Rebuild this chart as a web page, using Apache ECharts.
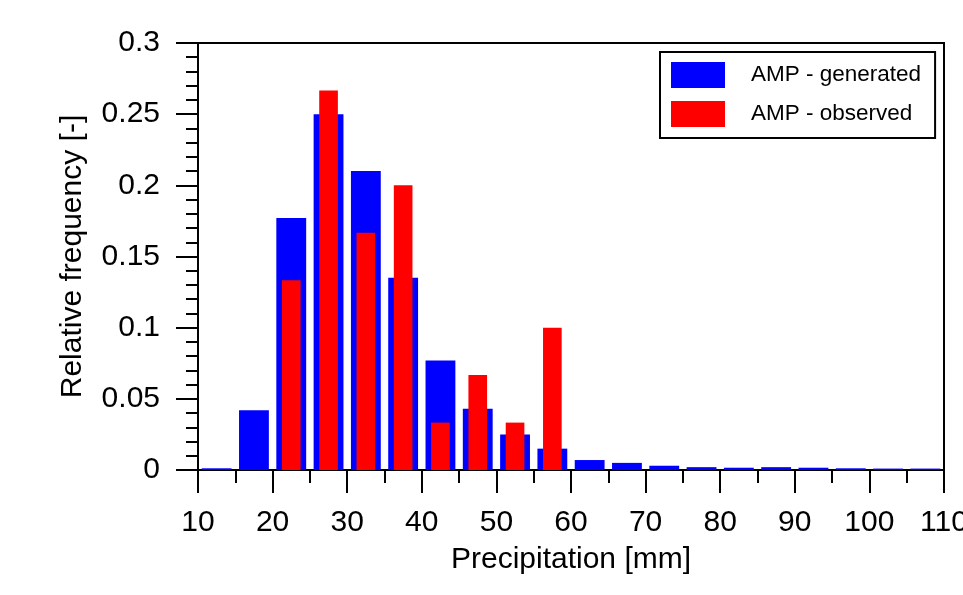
<!DOCTYPE html>
<html>
<head>
<meta charset="utf-8">
<title>AMP relative frequency</title>
<script src="https://cdn.jsdelivr.net/npm/echarts@6/dist/echarts.min.js"></script>
<style>
  html, body { margin: 0; padding: 0; background: #fff; }
  #chart { width: 963px; height: 595px; }
</style>
</head>
<body>
<div id="chart"></div>
<script>
// Histogram bins of annual maximum precipitation (5 mm wide, given by their centres)
const genBinCentres = [12.5, 17.5, 22.5, 27.5, 32.5, 37.5, 42.5, 47.5, 52.5, 57.5,
                       62.5, 67.5, 72.5, 77.5, 82.5, 87.5, 92.5, 97.5, 102.5, 107.5];
const genFrequency = [0.0012, 0.042, 0.177, 0.25, 0.21, 0.135, 0.077, 0.043, 0.025, 0.015,
                      0.007, 0.005, 0.003, 0.002, 0.0016, 0.002, 0.0016, 0.0012, 0.001, 0.001];

const obsBinCentres = [22.5, 27.5, 32.5, 37.5, 42.5, 47.5, 52.5, 57.5];
const obsFrequency = [0.1333, 0.2667, 0.1667, 0.2, 0.0333, 0.0667, 0.0333, 0.1];

const seriesNames = ['AMP - generated', 'AMP - observed'];
const xTicks = { min: 10, max: 110, step: 10 };
const yTicks = { min: 0, max: 0.3, step: 0.05 };

const FONT = "'Liberation Sans', Arial, Helvetica, sans-serif";

// rectangle bars drawn through the axis scales; halfWidth is in mm
function barRenderer(halfWidth) {
  return function (params, api) {
    const x = api.value(0);
    const y = api.value(1);
    const topLeft = api.coord([x - halfWidth, y]);
    const bottomRight = api.coord([x + halfWidth, 0]);
    return {
      type: 'rect',
      shape: {
        x: topLeft[0],
        y: topLeft[1],
        width: bottomRight[0] - topLeft[0],
        height: bottomRight[1] - topLeft[1]
      },
      style: { fill: api.visual('color') }
    };
  };
}

const chart = echarts.init(document.getElementById('chart'), null, { renderer: 'canvas' });

chart.setOption({
  animation: false,
  backgroundColor: '#fff',
  grid: {
    left: 198, right: 19, top: 43, bottom: 125,
    containLabel: false,
    outerBoundsMode: 'none',
    show: true, borderColor: '#000', borderWidth: 2, backgroundColor: 'transparent'
  },
  legend: {
    orient: 'vertical',
    left: 660, top: 52,
    padding: [10, 14, 11, 11],
    borderColor: '#000', borderWidth: 2,
    itemWidth: 54, itemHeight: 26, itemGap: 13,
    textStyle: { fontFamily: FONT, fontSize: 22.5, color: '#000', padding: [0, 0, 0, 21] },
    data: seriesNames.map(n => ({ name: n, icon: 'rect' }))
  },
  xAxis: {
    type: 'value',
    min: xTicks.min, max: xTicks.max, interval: xTicks.step,
    name: 'Precipitation [mm]',
    nameLocation: 'middle', nameGap: 75,
    nameTextStyle: { fontFamily: FONT, fontSize: 30, color: '#000' },
    axisLine: { show: true, onZero: false, lineStyle: { color: '#000', width: 2 } },
    axisTick: { show: true, inside: false, length: 23, lineStyle: { color: '#000', width: 2 } },
    minorTick: { show: true, splitNumber: 2, length: 13, lineStyle: { color: '#000', width: 2 } },
    axisLabel: { fontFamily: FONT, fontSize: 30, color: '#000', margin: 38, showMaxLabel: true, hideOverlap: false },
    splitLine: { show: false }
  },
  yAxis: {
    type: 'value',
    min: yTicks.min, max: yTicks.max, interval: yTicks.step,
    name: 'Relative frequency [-]',
    nameLocation: 'middle', nameGap: 110, nameRotate: 90,
    nameTextStyle: { fontFamily: FONT, fontSize: 30, color: '#000' },
    axisLine: { show: true, lineStyle: { color: '#000', width: 2 } },
    axisTick: { show: true, inside: false, length: 22, lineStyle: { color: '#000', width: 2 } },
    minorTick: { show: true, splitNumber: 5, length: 12, lineStyle: { color: '#000', width: 2 } },
    axisLabel: { fontFamily: FONT, fontSize: 30, color: '#000', margin: 38 },
    splitLine: { show: false }
  },
  series: [
    {
      name: seriesNames[0],
      type: 'custom',
      itemStyle: { color: '#0000ff' },
      renderItem: barRenderer(2.0),
      encode: { x: 0, y: 1 },
      data: genBinCentres.map((c, i) => [c, genFrequency[i]]),
      z: 2
    },
    {
      name: seriesNames[1],
      type: 'custom',
      itemStyle: { color: '#ff0000' },
      renderItem: barRenderer(1.25),
      encode: { x: 0, y: 1 },
      data: obsBinCentres.map((c, i) => [c, obsFrequency[i]]),
      z: 3
    }
  ]
});
</script>
</body>
</html>
